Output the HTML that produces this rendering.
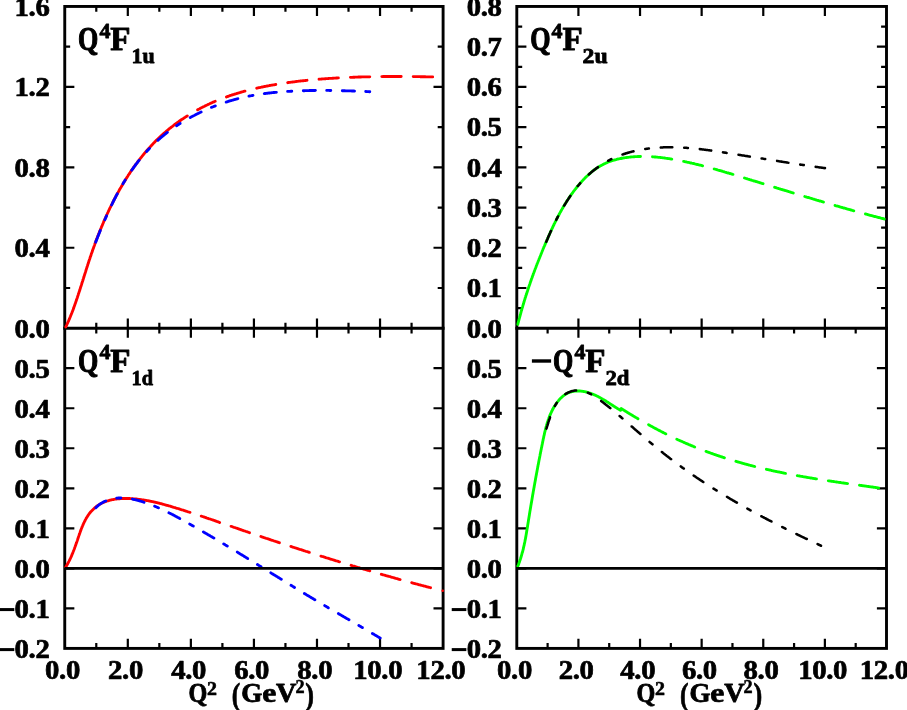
<!DOCTYPE html>
<html><head><meta charset="utf-8"><title>Q4F form factors</title>
<style>html,body{margin:0;padding:0;background:#fff}svg{display:block;will-change:transform}text{font-family:"Liberation Serif",serif;font-weight:bold}</style></head>
<body>
<svg width="907" height="710" viewBox="0 0 907 710" role="img" aria-label="Q^4 F form factor plots">
<rect width="907" height="710" fill="#fff"/>
<g fill="none" stroke="#000" stroke-width="2.9" stroke-linecap="square">
<rect x="64.75" y="6.45" width="378.35" height="641.95"/>
<path d="M64.75,328.2 H443.1"/>
<rect x="516.8" y="6.45" width="369.70" height="641.95"/>
<path d="M516.8,328.2 H886.5"/>
</g>
<path d="M96.28,6.45 V11.85 M96.28,322.80 V333.60 M96.28,643.00 V648.40 M127.81,6.45 V16.05 M127.81,318.60 V337.80 M127.81,638.80 V648.40 M159.34,6.45 V11.85 M159.34,322.80 V333.60 M159.34,643.00 V648.40 M190.87,6.45 V16.05 M190.87,318.60 V337.80 M190.87,638.80 V648.40 M222.40,6.45 V11.85 M222.40,322.80 V333.60 M222.40,643.00 V648.40 M253.93,6.45 V16.05 M253.93,318.60 V337.80 M253.93,638.80 V648.40 M285.45,6.45 V11.85 M285.45,322.80 V333.60 M285.45,643.00 V648.40 M316.98,6.45 V16.05 M316.98,318.60 V337.80 M316.98,638.80 V648.40 M348.51,6.45 V11.85 M348.51,322.80 V333.60 M348.51,643.00 V648.40 M380.04,6.45 V16.05 M380.04,318.60 V337.80 M380.04,638.80 V648.40 M411.57,6.45 V11.85 M411.57,322.80 V333.60 M411.57,643.00 V648.40 M64.75,287.98 H70.15 M437.70,287.98 H443.10 M64.75,247.76 H74.35 M433.50,247.76 H443.10 M64.75,207.54 H70.15 M437.70,207.54 H443.10 M64.75,167.32 H74.35 M433.50,167.32 H443.10 M64.75,127.11 H70.15 M437.70,127.11 H443.10 M64.75,86.89 H74.35 M433.50,86.89 H443.10 M64.75,46.67 H70.15 M437.70,46.67 H443.10 M64.75,608.38 H74.35 M433.50,608.38 H443.10 M64.75,568.35 H74.35 M433.50,568.35 H443.10 M64.75,528.33 H74.35 M433.50,528.33 H443.10 M64.75,488.30 H74.35 M433.50,488.30 H443.10 M64.75,448.27 H74.35 M433.50,448.27 H443.10 M64.75,408.25 H74.35 M433.50,408.25 H443.10 M64.75,368.22 H74.35 M433.50,368.22 H443.10 M547.61,328.20 V333.60 M547.61,643.00 V648.40 M578.42,6.45 V16.05 M578.42,318.60 V337.80 M578.42,638.80 V648.40 M609.22,328.20 V333.60 M609.22,643.00 V648.40 M640.03,6.45 V16.05 M640.03,318.60 V337.80 M640.03,638.80 V648.40 M670.84,328.20 V333.60 M670.84,643.00 V648.40 M701.65,6.45 V16.05 M701.65,318.60 V337.80 M701.65,638.80 V648.40 M732.46,328.20 V333.60 M732.46,643.00 V648.40 M763.27,6.45 V16.05 M763.27,318.60 V337.80 M763.27,638.80 V648.40 M794.08,328.20 V333.60 M794.08,643.00 V648.40 M824.88,6.45 V16.05 M824.88,318.60 V337.80 M824.88,638.80 V648.40 M855.69,328.20 V333.60 M855.69,643.00 V648.40 M516.80,308.09 H522.20 M881.10,308.09 H886.50 M516.80,287.98 H526.40 M876.90,287.98 H886.50 M516.80,267.87 H522.20 M881.10,267.87 H886.50 M516.80,247.76 H526.40 M876.90,247.76 H886.50 M516.80,227.65 H522.20 M881.10,227.65 H886.50 M516.80,207.54 H526.40 M876.90,207.54 H886.50 M516.80,187.43 H522.20 M881.10,187.43 H886.50 M516.80,167.32 H526.40 M876.90,167.32 H886.50 M516.80,147.22 H522.20 M881.10,147.22 H886.50 M516.80,127.11 H526.40 M876.90,127.11 H886.50 M516.80,107.00 H522.20 M881.10,107.00 H886.50 M516.80,86.89 H526.40 M876.90,86.89 H886.50 M516.80,66.78 H522.20 M881.10,66.78 H886.50 M516.80,46.67 H526.40 M876.90,46.67 H886.50 M516.80,26.56 H522.20 M881.10,26.56 H886.50 M516.80,608.38 H526.40 M876.90,608.38 H886.50 M516.80,568.35 H526.40 M876.90,568.35 H886.50 M516.80,528.33 H526.40 M876.90,528.33 H886.50 M516.80,488.30 H526.40 M876.90,488.30 H886.50 M516.80,448.27 H526.40 M876.90,448.27 H886.50 M516.80,408.25 H526.40 M876.90,408.25 H886.50 M516.80,368.22 H526.40 M876.90,368.22 H886.50" fill="none" stroke="#000" stroke-width="2.2"/>
<g fill="none" stroke-width="2.85" stroke-linecap="round" stroke-linejoin="round">
<path d="M65.8,327.0 L65.8,326.9 L66.2,326.1 L66.6,325.3 L66.9,324.5 L67.3,323.7 L67.7,322.9 L68.0,322.1 L68.4,321.4 L68.7,320.6 L69.0,319.8 L69.4,319.0 L69.7,318.2 L70.0,317.4 L70.4,316.6 L70.7,315.8 L71.0,315.0 L71.3,314.2 L71.6,313.4 L72.0,312.6 L72.3,311.8 L72.6,311.0 L72.9,310.2 L73.2,309.4 L73.5,308.6 L73.8,307.8 L74.0,307.0 L74.3,306.2 L74.6,305.4 L74.9,304.6 L75.2,303.8 L75.5,303.0 L75.7,302.2 L76.0,301.4 L76.3,300.6 L76.6,299.8 L76.8,299.0 L77.1,298.2 L77.4,297.4 L77.6,296.6 L77.9,295.7 L78.2,294.9 L78.4,294.1 L78.7,293.3 L79.0,292.5 L79.2,291.7 L79.5,290.9 L79.8,290.1 L80.0,289.3 L80.3,288.5 L80.5,287.6 L80.8,286.8 L81.1,286.0 L81.3,285.2 L81.6,284.4 L81.8,283.6 L82.1,282.8 L82.3,282.0 L82.6,281.2 L82.9,280.3 L83.1,279.5 L83.4,278.7 L83.6,277.9 L83.9,277.1 L84.1,276.3 L84.4,275.5 L84.6,274.7 L84.9,273.8 L85.2,273.0 L85.4,272.2 L85.7,271.4 L85.9,270.6 L86.2,269.8 L86.4,269.0 L86.7,268.1 L87.0,267.3 L87.2,266.5 L87.5,265.7 L87.7,264.9 L88.0,264.1 L88.3,263.3 L88.5,262.5 L88.8,261.6 L89.1,260.8 L89.3,260.0 L89.6,259.2 L89.9,258.4 L90.1,257.6 L90.4,256.8 L90.7,256.0 L91.0,255.2 L91.2,254.3 L91.5,253.5 L91.8,252.7 L92.1,251.9 L92.4,251.1 L92.6,250.3 L92.9,249.5 L93.2,248.7 L93.5,247.9 L93.8,247.1 L94.1,246.3 L94.4,245.5 L94.7,244.6 L94.9,243.8 L95.2,243.0 L95.5,242.2 L95.8,241.4 L96.1,240.6 L96.4,239.8 L96.7,239.0 L97.0,238.2 L97.4,237.4 L97.7,236.6 L98.0,235.8 L98.3,235.0 L98.6,234.2 L98.9,233.4 L99.2,232.6 L99.5,231.8 L99.9,231.0 L100.2,230.2 L100.5,229.4 L100.8,228.6 L101.2,227.8 L101.5,227.0 L101.8,226.2 L102.2,225.5 L102.5,224.7 L102.8,223.9 L103.2,223.1 L103.5,222.3 L103.8,221.5 L104.2,220.7 L104.5,219.9 L104.9,219.1 L105.2,218.4 L105.6,217.6 L105.9,216.8 L106.3,216.0 L106.6,215.2 L107.0,214.4 L107.3,213.7 L107.7,212.9 L108.1,212.1 L108.4,211.3 L108.8,210.5 L109.2,209.8 L109.5,209.0 L109.9,208.2 L110.3,207.4 L110.7,206.7 L111.0,205.9 L111.4,205.1 L111.8,204.4 L112.2,203.6 L112.6,202.8 L113.0,202.0 L113.3,201.3 L113.7,200.5 L114.1,199.8 L114.5,199.0 L114.9,198.2 L115.3,197.5 L115.7,196.7 L116.1,195.9 L116.5,195.2 L116.9,194.4 L117.4,193.7 L117.8,192.9 L118.2,192.2 L118.6,191.4 L119.0,190.7 L119.4,189.9 L119.9,189.2 L120.3,188.4 L120.7,187.7 L121.2,186.9 L121.6,186.2 L122.0,185.5 L122.5,184.7 L122.9,184.0 L123.3,183.2 L123.8,182.5 L124.2,181.8 L124.7,181.0 L125.1,180.3 L125.6,179.6 L126.0,178.8 L126.5,178.1 L127.0,177.4 L127.4,176.7 L127.9,175.9 L128.3,175.2 L128.8,174.5 L129.3,173.8 L129.8,173.1 L130.2,172.4 L130.7,171.6 L131.2,170.9 L131.7,170.2 L132.2,169.5 L132.7,168.8 L133.2,168.1 L133.6,167.4 L134.1,166.7 L134.6,166.0 L135.1,165.3 L135.6,164.6 L136.2,163.9 L136.7,163.3 L137.2,162.6 L137.7,161.9 L138.2,161.2 L138.7,160.5 L139.2,159.8 L139.8,159.2 L140.3,158.5 L140.8,157.8 L141.4,157.2 L141.9,156.5 L142.4,155.8 L143.0,155.2 L143.5,154.5 L144.1,153.8 L144.6,153.2 L145.2,152.5 L145.7,151.9 L146.3,151.2 L146.8,150.6 L147.4,150.0 L147.9,149.3 L148.5,148.7 L149.1,148.0 L149.7,147.4 L150.2,146.8 L150.8,146.2 L151.4,145.5 L152.0,144.9 L152.6,144.3 L153.1,143.7 L153.7,143.1 L154.3,142.5 L154.9,141.8 L155.5,141.2 L156.1,140.6 L156.7,140.0 L157.3,139.4 L158.0,138.9 L158.6,138.3 L159.2,137.7 L159.8,137.1 L160.4,136.5 L161.1,135.9 L161.7,135.4 L162.3,134.8 L163.0,134.2 L163.6,133.7 L164.2,133.1 L164.9,132.5 L165.5,132.0 L166.2,131.4 L166.8,130.9 L167.5,130.3 L168.1,129.8 L168.8,129.2 L169.4,128.7 L170.1,128.2 L170.8,127.6 L171.4,127.1 L172.1,126.6 L172.8,126.1 L173.5,125.5 L174.1,125.0 L174.8,124.5 L175.5,124.0 L176.2,123.5 L176.9,123.0 L177.6,122.5 L178.3,122.0 L178.9,121.5 L179.6,121.0 L180.3,120.5 L181.0,120.0 L181.7,119.5 L182.5,119.1 L183.2,118.6 L183.9,118.1 L184.6,117.6 L185.3,117.2 L186.0,116.7 L186.7,116.3 L187.3,115.9" stroke="#ff0000"/>
<path d="M197.6,109.8 L197.8,109.7 L198.5,109.3 L199.3,108.9 L200.0,108.5 L200.8,108.1 L201.5,107.7 L202.3,107.3 L203.0,106.9 L203.8,106.6 L204.6,106.2 L205.3,105.8 L206.1,105.4 L206.9,105.0 L207.6,104.7 L208.4,104.3 L209.2,104.0 L210.0,103.6 L210.8,103.2 L211.5,102.9 L212.3,102.5 L213.1,102.2 L213.9,101.9 L214.7,101.5 L215.2,101.3 M226.4,96.9 L226.6,96.8 L227.4,96.5 L228.2,96.3 L229.0,96.0 L229.8,95.7 L230.7,95.4 L231.5,95.2 L232.3,94.9 L233.1,94.6 L233.9,94.4 L234.7,94.1 L235.6,93.8 L236.4,93.6 L237.2,93.3 L238.0,93.1 L238.8,92.9 L239.7,92.6 L240.5,92.4 L241.3,92.1 L242.1,91.9 L243.0,91.7 L243.8,91.4 L244.6,91.2 L245.0,91.1 M256.7,88.2 L257.2,88.1 L258.0,87.9 L258.8,87.7 L259.7,87.6 L260.5,87.4 L261.4,87.2 L262.2,87.0 L263.1,86.9 L263.9,86.7 L264.7,86.5 L265.6,86.4 L266.4,86.2 L267.3,86.0 L268.1,85.9 L269.0,85.7 L269.8,85.5 L270.7,85.4 L271.5,85.2 L272.4,85.1 L273.2,84.9 L274.1,84.8 L274.9,84.6 L275.8,84.5 L275.8,84.5 M287.7,82.7 L288.5,82.5 L289.4,82.4 L290.2,82.3 L291.1,82.2 L291.9,82.1 L292.8,82.0 L293.6,81.9 L294.5,81.8 L295.3,81.6 L296.2,81.5 L297.0,81.4 L297.9,81.3 L298.7,81.2 L299.6,81.1 L300.4,81.0 L301.3,80.9 L302.1,80.8 L303.0,80.7 L303.8,80.7 L304.7,80.6 L305.5,80.5 L306.4,80.4 L307.0,80.3 M319.0,79.2 L319.2,79.2 L320.0,79.1 L320.9,79.1 L321.7,79.0 L322.6,78.9 L323.4,78.9 L324.3,78.8 L325.1,78.7 L326.0,78.7 L326.8,78.6 L327.7,78.6 L328.5,78.5 L329.4,78.4 L330.2,78.4 L331.1,78.3 L331.9,78.3 L332.8,78.2 L333.6,78.2 L334.5,78.1 L335.3,78.1 L336.2,78.0 L337.0,78.0 L337.9,77.9 L338.4,77.9 M350.4,77.3 L350.7,77.3 L351.5,77.3 L352.4,77.3 L353.2,77.2 L354.1,77.2 L354.9,77.2 L355.8,77.1 L356.6,77.1 L357.5,77.1 L358.4,77.0 L359.2,77.0 L360.1,77.0 L360.9,77.0 L361.8,76.9 L362.6,76.9 L363.5,76.9 L364.3,76.9 L365.2,76.9 L366.0,76.8 L366.9,76.8 L367.7,76.8 L368.6,76.8 L369.5,76.8 L369.8,76.8 M381.8,76.6 L382.3,76.6 L383.1,76.5 L384.0,76.5 L384.8,76.5 L385.7,76.5 L386.5,76.5 L387.4,76.5 L388.3,76.5 L389.1,76.5 L390.0,76.5 L390.8,76.5 L391.7,76.5 L392.5,76.5 L393.4,76.5 L394.2,76.5 L395.1,76.5 L396.0,76.5 L396.8,76.5 L397.7,76.5 L398.5,76.5 L399.4,76.5 L400.2,76.5 L401.1,76.5 L401.2,76.5 M413.2,76.6 L413.9,76.6 L414.8,76.6 L415.7,76.6 L416.5,76.6 L417.4,76.6 L418.2,76.6 L419.1,76.6 L420.0,76.7 L420.8,76.7 L421.7,76.7 L422.5,76.7 L423.4,76.7 L424.2,76.7 L425.1,76.7 L426.0,76.8 L426.8,76.8 L427.7,76.8 L428.5,76.8 L429.4,76.8 L430.3,76.9 L431.1,76.9 L432.0,76.9 L432.7,76.9" stroke="#ff0000" stroke-width="2.85"/>
<path d="M95.7,242.1 L95.9,241.6 L96.1,241.1 L96.3,240.5 L96.6,239.9 L96.8,239.4 L97.0,238.8 L97.2,238.3 L97.4,237.7 L97.6,237.2 L97.8,236.6 L98.1,236.1 L98.3,235.5 L98.5,235.0 L98.7,234.4 L98.9,233.9 L99.2,233.3 L99.4,232.8 L99.6,232.2 L99.8,231.7 L100.1,231.1 L100.3,230.5 L100.3,230.4 M104.9,219.7 L104.9,219.5 L105.1,219.0 L105.4,218.5 L105.6,217.9 L105.9,217.4 L106.1,216.8 L106.4,216.3 L106.6,215.8 M111.6,205.0 L111.6,204.9 L111.9,204.4 L112.2,203.8 L112.4,203.3 L112.7,202.7 L113.0,202.2 L113.2,201.7 L113.5,201.1 L113.8,200.6 L114.0,200.1 L114.3,199.5 L114.6,199.0 L114.8,198.5 L115.1,198.0 L115.4,197.4 L115.7,196.9 L115.9,196.4 L116.2,195.8 L116.5,195.3 L116.8,194.8 L117.1,194.3 L117.3,193.8 M123.0,183.8 L123.2,183.3 L123.5,182.8 L123.8,182.3 L124.1,181.8 L124.5,181.3 L124.8,180.8 L125.1,180.3 L125.2,180.1 M131.7,170.2 L132.0,169.8 L132.3,169.3 L132.7,168.9 L133.0,168.4 L133.4,167.9 L133.7,167.4 L134.1,166.9 L134.4,166.4 L134.8,166.0 L135.1,165.5 L135.5,165.0 L135.8,164.5 L136.2,164.0 L136.6,163.6 L136.9,163.1 L137.3,162.6 L137.7,162.1 L138.0,161.7 L138.4,161.2 L138.8,160.7 L139.1,160.3 L139.1,160.3 M146.6,151.5 L146.9,151.2 L147.3,150.8 L147.7,150.3 L148.1,149.9 L148.5,149.5 L148.9,149.0 L149.3,148.6 L149.5,148.4 M157.9,140.3 L158.3,140.0 L158.7,139.6 L159.1,139.2 L159.6,138.8 L160.0,138.4 L160.5,138.0 L160.9,137.6 L161.4,137.2 L161.8,136.8 L162.3,136.5 L162.7,136.1 L163.2,135.7 L163.7,135.3 L164.1,135.0 L164.6,134.6 L165.0,134.2 L165.5,133.8 L166.0,133.5 L166.4,133.1 L166.9,132.7 L167.4,132.4 M176.6,125.8 L177.1,125.5 L177.6,125.1 L178.1,124.8 L178.6,124.5 L179.1,124.1 L179.6,123.8 L180.1,123.5 L180.2,123.5 M190.2,117.6 L190.4,117.4 L190.9,117.1 L191.5,116.9 L192.0,116.6 L192.5,116.3 L193.1,116.0 L193.6,115.7 L194.1,115.5 L194.7,115.2 L195.2,114.9 L195.7,114.6 L196.3,114.4 L196.8,114.1 L197.3,113.8 L197.9,113.6 L198.4,113.3 L198.9,113.0 L199.5,112.8 L200.0,112.5 L200.5,112.3 L201.1,112.0 M211.4,107.4 L211.5,107.4 L212.0,107.2 L212.6,107.0 L213.1,106.8 L213.7,106.5 L214.2,106.3 L214.8,106.1 L215.3,105.9 M226.2,102.1 L226.5,101.9 L227.1,101.8 L227.7,101.6 L228.2,101.4 L228.8,101.2 L229.4,101.1 L229.9,100.9 L230.5,100.7 L231.1,100.6 L231.7,100.4 L232.2,100.2 L232.8,100.1 L233.4,99.9 L233.9,99.7 L234.5,99.6 L235.1,99.4 L235.7,99.3 L236.2,99.1 L236.8,99.0 L237.4,98.8 L237.9,98.7 M248.9,96.1 L248.9,96.1 L249.5,96.0 L250.1,95.9 L250.7,95.8 L251.3,95.7 L251.8,95.6 L252.4,95.5 L253.0,95.4 M264.3,93.6 L264.8,93.5 L265.3,93.5 L265.9,93.4 L266.5,93.3 L267.1,93.2 L267.7,93.2 L268.3,93.1 L268.9,93.0 L269.5,93.0 L270.1,92.9 L270.7,92.8 L271.3,92.8 L271.8,92.7 L272.4,92.6 L273.0,92.6 L273.6,92.5 L274.2,92.5 L274.8,92.4 L275.4,92.4 L276.0,92.3 L276.4,92.3 M287.6,91.4 L287.9,91.4 L288.5,91.4 L289.1,91.3 L289.7,91.3 L290.3,91.3 L290.9,91.2 L291.5,91.2 L291.8,91.2 M303.3,90.7 L303.5,90.7 L304.1,90.7 L304.7,90.7 L305.3,90.6 L305.9,90.6 L306.5,90.6 L307.1,90.6 L307.7,90.6 L308.3,90.6 L308.9,90.6 L309.5,90.5 L310.1,90.5 L310.7,90.5 L311.3,90.5 L311.9,90.5 L312.5,90.5 L313.1,90.5 L313.7,90.5 L314.3,90.5 L314.9,90.5 L315.4,90.4 M326.7,90.4 L326.9,90.4 L327.5,90.4 L328.1,90.4 L328.7,90.4 L329.2,90.4 L329.8,90.5 L330.4,90.5 L330.8,90.5 M342.3,90.7 L342.4,90.7 L343.0,90.7 L343.6,90.7 L344.2,90.7 L344.8,90.7 L345.4,90.8 L345.9,90.8 L346.5,90.8 L347.1,90.8 L347.7,90.8 L348.3,90.8 L348.9,90.9 L349.5,90.9 L350.1,90.9 L350.7,90.9 L351.3,90.9 L351.9,91.0 L352.5,91.0 L353.1,91.0 L353.7,91.0 L354.2,91.0 L354.5,91.1 M365.7,91.5 L366.0,91.5 L366.6,91.6 L367.2,91.6 L367.8,91.6 L368.4,91.6 L368.9,91.7 L369.5,91.7 L369.8,91.7" stroke="#0000ff" stroke-width="2.85"/>
<path d="M517.8,324.4 L517.8,324.3 L518.0,323.5 L518.2,322.7 L518.4,322.0 L518.6,321.2 L518.8,320.4 L519.0,319.6 L519.2,318.8 L519.4,318.1 L519.6,317.3 L519.9,316.5 L520.1,315.7 L520.3,314.9 L520.5,314.2 L520.7,313.4 L520.9,312.6 L521.1,311.8 L521.3,311.1 L521.6,310.3 L521.8,309.5 L522.0,308.7 L522.2,308.0 L522.5,307.2 L522.7,306.4 L522.9,305.6 L523.1,304.9 L523.4,304.1 L523.6,303.3 L523.8,302.6 L524.1,301.8 L524.3,301.0 L524.5,300.2 L524.8,299.5 L525.0,298.7 L525.2,297.9 L525.5,297.2 L525.7,296.4 L526.0,295.6 L526.2,294.9 L526.5,294.1 L526.7,293.3 L527.0,292.6 L527.2,291.8 L527.5,291.0 L527.7,290.3 L528.0,289.5 L528.2,288.7 L528.5,288.0 L528.7,287.2 L529.0,286.5 L529.2,285.7 L529.5,284.9 L529.8,284.2 L530.0,283.4 L530.3,282.6 L530.5,281.9 L530.8,281.1 L531.1,280.4 L531.3,279.6 L531.6,278.8 L531.9,278.1 L532.2,277.3 L532.4,276.6 L532.7,275.8 L533.0,275.1 L533.2,274.3 L533.5,273.5 L533.8,272.8 L534.1,272.0 L534.4,271.3 L534.6,270.5 L534.9,269.8 L535.2,269.0 L535.5,268.3 L535.8,267.5 L536.1,266.8 L536.3,266.0 L536.6,265.3 L536.9,264.5 L537.2,263.7 L537.5,263.0 L537.8,262.2 L538.1,261.5 L538.4,260.7 L538.7,260.0 L539.0,259.2 L539.3,258.5 L539.6,257.8 L539.9,257.0 L540.2,256.3 L540.5,255.5 L540.8,254.8 L541.1,254.0 L541.4,253.3 L541.7,252.5 L542.0,251.8 L542.3,251.0 L542.6,250.3 L542.9,249.5 L543.2,248.8 L543.5,248.1 L543.8,247.3 L544.1,246.6 L544.5,245.8 L544.8,245.1 L545.1,244.4 L545.4,243.6 L545.7,242.9 L546.0,242.1 L546.4,241.4 L546.7,240.7 L547.0,239.9 L547.3,239.2 L547.6,238.4 L548.0,237.7 L548.3,237.0 L548.6,236.2 L548.9,235.5 L549.3,234.8 L549.6,234.0 L549.9,233.3 L550.2,232.5 L550.6,231.8 L550.9,231.1 L551.3,230.4 L551.6,229.6 L551.9,228.9 L552.3,228.2 L552.6,227.4 L552.9,226.7 L553.3,226.0 L553.6,225.3 L554.0,224.5 L554.3,223.8 L554.7,223.1 L555.0,222.4 L555.4,221.6 L555.8,220.9 L556.1,220.2 L556.5,219.5 L556.8,218.8 L557.2,218.0 L557.6,217.3 L557.9,216.6 L558.3,215.9 L558.7,215.2 L559.1,214.5 L559.5,213.8 L559.8,213.1 L560.2,212.4 L560.6,211.7 L561.0,211.0 L561.4,210.3 L561.8,209.6 L562.2,208.9 L562.6,208.2 L563.0,207.5 L563.4,206.8 L563.8,206.1 L564.2,205.4 L564.6,204.7 L565.0,204.0 L565.5,203.3 L565.9,202.7 L566.3,202.0 L566.7,201.3 L567.2,200.6 L567.6,199.9 L568.1,199.3 L568.5,198.6 L569.0,197.9 L569.4,197.3 L569.9,196.6 L570.3,195.9 L570.8,195.3 L571.2,194.6 L571.7,194.0 L572.2,193.3 L572.7,192.6 L573.1,192.0 L573.6,191.3 L574.1,190.7 L574.6,190.1 L575.1,189.4 L575.6,188.8 L576.1,188.1 L576.6,187.5 L577.1,186.9 L577.6,186.2 L578.1,185.6 L578.7,185.0 L579.2,184.4 L579.7,183.8 L580.3,183.1 L580.8,182.5 L581.4,181.9 L581.9,181.3 L582.5,180.7 L583.0,180.1 L583.6,179.5 L584.2,178.9 L584.7,178.3 L585.3,177.7 L585.9,177.2 L586.5,176.6 L587.1,176.0 L587.7,175.5 L588.3,174.9 L588.9,174.4 L589.5,173.8 L590.1,173.3 L590.7,172.8 L591.3,172.2 L592.0,171.7 L592.6,171.2 L593.2,170.7 L593.9,170.2 L594.5,169.7 L595.2,169.3 L595.8,168.8 L596.5,168.3 L597.2,167.9 L597.8,167.5 L598.5,167.0 L599.2,166.6 L599.9,166.2 L600.6,165.8 L601.3,165.4 L602.0,165.0 L602.7,164.7 L603.4,164.3 L604.1,163.9 L604.8,163.6 L605.5,163.3 L606.3,162.9 L607.0,162.6 L607.7,162.3 L608.4,162.0 L609.2,161.7 L609.9,161.5 L610.7,161.2 L611.4,160.9 L612.2,160.7 L612.9,160.5 L613.7,160.2 L614.4,160.0 L615.2,159.8 L616.0,159.6 L616.7,159.4 L617.5,159.2 L618.3,159.0 L619.0,158.8 L619.8,158.7 L620.6,158.5 L621.4,158.4 L621.5,158.3" stroke="#00ff00"/>
<path d="M621.2,158.4 L621.4,158.4 L622.1,158.2 L622.9,158.1 L623.7,157.9 L624.5,157.8 L625.3,157.7 L626.0,157.6 L626.8,157.5 L627.6,157.4 L628.4,157.3 L629.2,157.2 L630.0,157.1 L630.8,157.0 L631.6,156.9 L632.3,156.9 L633.1,156.8 L633.9,156.7 L634.7,156.7 L635.5,156.6 L636.3,156.6 L637.1,156.6 L637.9,156.5 L638.7,156.5 L639.5,156.5 L640.3,156.5 L640.5,156.5 M652.5,156.8 L653.2,156.9 L654.0,156.9 L654.8,157.0 L655.7,157.0 L656.5,157.1 L657.3,157.2 L658.1,157.3 L658.9,157.4 L659.7,157.4 L660.5,157.5 L661.3,157.6 L662.1,157.7 L662.9,157.8 L663.8,157.9 L664.6,158.0 L665.4,158.2 L666.2,158.3 L667.0,158.4 L667.8,158.5 L668.6,158.6 L669.4,158.7 L670.2,158.9 L671.0,159.0 L671.8,159.1 M683.6,161.4 L683.9,161.4 L684.7,161.6 L685.5,161.8 L686.3,161.9 L687.0,162.1 L687.8,162.3 L688.6,162.4 L689.4,162.6 L690.2,162.8 L691.0,163.0 L691.8,163.2 L692.6,163.3 L693.4,163.5 L694.2,163.7 L694.9,163.9 L695.7,164.1 L696.5,164.3 L697.3,164.5 L698.1,164.7 L698.9,164.9 L699.6,165.1 L700.4,165.2 L701.2,165.4 L702.0,165.6 L702.6,165.8 M714.2,168.9 L714.4,169.0 L715.1,169.2 L715.9,169.4 L716.7,169.6 L717.5,169.9 L718.2,170.1 L719.0,170.3 L719.8,170.5 L720.5,170.7 L721.3,171.0 L722.1,171.2 L722.8,171.4 L723.6,171.6 L724.4,171.9 L725.1,172.1 L725.9,172.3 L726.7,172.6 L727.4,172.8 L728.2,173.0 L729.0,173.2 L729.7,173.5 L730.5,173.7 L731.3,173.9 L732.0,174.2 L732.8,174.4 L733.0,174.4 M744.5,178.0 L745.1,178.2 L745.8,178.4 L746.6,178.6 L747.4,178.9 L748.1,179.1 L748.9,179.3 L749.7,179.6 L750.4,179.8 L751.2,180.0 L752.0,180.3 L752.7,180.5 L753.5,180.8 L754.3,181.0 L755.0,181.2 L755.8,181.5 L756.6,181.7 L757.3,181.9 L758.1,182.2 L758.9,182.4 L759.6,182.6 L760.4,182.9 L761.2,183.1 L762.0,183.4 L762.7,183.6 L763.1,183.7 M774.6,187.3 L775.0,187.4 L775.8,187.6 L776.6,187.9 L777.3,188.1 L778.1,188.3 L778.9,188.6 L779.7,188.8 L780.4,189.1 L781.2,189.3 L782.0,189.5 L782.7,189.8 L783.5,190.0 L784.3,190.2 L785.0,190.5 L785.8,190.7 L786.6,190.9 L787.4,191.2 L788.1,191.4 L788.9,191.7 L789.7,191.9 L790.4,192.1 L791.2,192.4 L792.0,192.6 L792.8,192.8 L793.3,193.0 M804.8,196.5 L805.1,196.6 L805.9,196.8 L806.7,197.1 L807.4,197.3 L808.2,197.5 L809.0,197.7 L809.8,198.0 L810.5,198.2 L811.3,198.4 L812.1,198.7 L812.8,198.9 L813.6,199.1 L814.4,199.4 L815.2,199.6 L815.9,199.8 L816.7,200.1 L817.5,200.3 L818.3,200.5 L819.0,200.8 L819.8,201.0 L820.6,201.2 L821.4,201.4 L822.1,201.7 L822.9,201.9 L823.5,202.1 M835.0,205.5 L835.3,205.5 L836.1,205.8 L836.8,206.0 L837.6,206.2 L838.4,206.4 L839.2,206.6 L839.9,206.9 L840.7,207.1 L841.5,207.3 L842.3,207.5 L843.0,207.8 L843.8,208.0 L844.6,208.2 L845.4,208.4 L846.1,208.6 L846.9,208.9 L847.7,209.1 L848.5,209.3 L849.2,209.5 L850.0,209.7 L850.8,210.0 L851.6,210.2 L852.3,210.4 L853.1,210.6 L853.8,210.8 M865.4,214.0 L865.5,214.0 L866.3,214.2 L867.1,214.4 L867.8,214.7 L868.6,214.9 L869.4,215.1 L870.2,215.3 L870.9,215.5 L871.7,215.7 L872.5,215.9 L873.3,216.1 L874.0,216.3 L874.8,216.5 L875.6,216.7 L876.4,216.9 L877.2,217.1 L877.9,217.3 L878.7,217.5 L879.5,217.7 L880.3,217.9 L881.0,218.1 L881.8,218.3 L882.6,218.5 L883.4,218.7 L884.1,218.9 L884.2,219.0" stroke="#00ff00" stroke-width="2.85"/>
<path d="M546.3,241.8 L546.5,241.3 L546.7,240.8 L546.9,240.3 L547.1,239.8 L547.4,239.3 L547.6,238.8 L547.8,238.3 L548.0,237.8 L548.2,237.3 L548.4,236.7 L548.7,236.2 L548.9,235.7 L549.1,235.2 L549.3,234.7 L549.6,234.2 L549.8,233.7 L550.0,233.2 L550.2,232.6 L550.5,232.1 L550.7,231.6 L550.9,231.1 L551.0,231.0 M556.3,219.8 L556.5,219.4 L556.8,218.9 L557.0,218.4 L557.3,217.9 L557.6,217.4 L557.8,216.9 L558.0,216.5 M564.1,205.7 L564.2,205.6 L564.5,205.1 L564.8,204.6 L565.1,204.1 L565.4,203.6 L565.7,203.1 L566.0,202.6 L566.3,202.2 L566.6,201.7 L566.9,201.2 L567.2,200.7 L567.5,200.3 L567.8,199.8 L568.1,199.3 L568.4,198.8 L568.7,198.3 L569.0,197.9 L569.4,197.4 L569.7,196.9 L570.0,196.5 L570.3,196.0 L570.4,195.8 M577.8,186.0 L578.2,185.6 L578.5,185.2 L578.9,184.8 L579.3,184.3 L579.6,183.9 L580.0,183.5 L580.2,183.2 M588.8,174.5 L589.1,174.3 L589.5,173.9 L589.9,173.5 L590.3,173.1 L590.7,172.8 L591.2,172.4 L591.6,172.1 L592.0,171.7 L592.5,171.3 L592.9,171.0 L593.3,170.6 L593.8,170.3 L594.2,169.9 L594.6,169.6 L595.1,169.3 L595.5,168.9 L596.0,168.6 L596.4,168.2 L596.9,167.9 L597.3,167.6 L597.8,167.3 L597.9,167.2 M608.1,160.8 L608.2,160.8 L608.7,160.5 L609.2,160.3 L609.7,160.0 L610.2,159.8 L610.6,159.5 L611.1,159.3 L611.4,159.1 M622.5,154.5 L623.0,154.4 L623.5,154.2 L624.0,154.0 L624.5,153.8 L625.1,153.7 L625.6,153.5 L626.1,153.3 L626.7,153.2 L627.2,153.0 L627.7,152.8 L628.3,152.7 L628.8,152.5 L629.4,152.4 L629.9,152.2 L630.4,152.1 L631.0,151.9 L631.5,151.8 L632.1,151.6 L632.6,151.5 L633.1,151.4 L633.5,151.3 M645.3,149.0 L645.3,149.0 L645.9,148.9 L646.4,148.8 L647.0,148.8 L647.5,148.7 L648.1,148.6 L648.7,148.5 L648.9,148.5 M660.8,147.5 L661.1,147.4 L661.7,147.4 L662.2,147.4 L662.8,147.4 L663.4,147.3 L663.9,147.3 L664.5,147.3 L665.1,147.3 L665.6,147.3 L666.2,147.3 L666.8,147.3 L667.3,147.2 L667.9,147.2 L668.5,147.2 L669.0,147.2 L669.6,147.2 L670.2,147.2 L670.7,147.2 L671.3,147.2 L671.9,147.2 L672.3,147.2 M684.2,147.7 L684.3,147.7 L684.9,147.7 L685.4,147.8 L686.0,147.8 L686.5,147.8 L687.1,147.9 L687.7,147.9 L687.9,147.9 M699.8,149.1 L700.0,149.1 L700.6,149.2 L701.1,149.3 L701.7,149.3 L702.2,149.4 L702.8,149.5 L703.4,149.5 L703.9,149.6 L704.5,149.7 L705.0,149.7 L705.6,149.8 L706.1,149.9 L706.7,150.0 L707.3,150.0 L707.8,150.1 L708.4,150.2 L708.9,150.3 L709.5,150.3 L710.0,150.4 L710.6,150.5 L711.2,150.6 L711.2,150.6 M723.0,152.3 L723.4,152.4 L724.0,152.5 L724.5,152.6 L725.1,152.6 L725.6,152.7 L726.2,152.8 L726.6,152.9 M738.5,154.8 L738.9,154.8 L739.5,154.9 L740.0,155.0 L740.6,155.1 L741.1,155.2 L741.7,155.3 L742.2,155.4 L742.8,155.4 L743.3,155.5 L743.9,155.6 L744.5,155.7 L745.0,155.8 L745.6,155.9 L746.1,156.0 L746.7,156.1 L747.2,156.1 L747.8,156.2 L748.3,156.3 L748.9,156.4 L749.4,156.5 L749.8,156.6 M761.6,158.5 L762.2,158.5 L762.7,158.6 L763.3,158.7 L763.8,158.8 L764.4,158.9 L764.9,159.0 L765.2,159.0 M777.1,160.9 L777.1,160.9 L777.7,161.0 L778.2,161.1 L778.8,161.2 L779.3,161.3 L779.9,161.4 L780.4,161.5 L781.0,161.6 L781.5,161.6 L782.1,161.7 L782.6,161.8 L783.2,161.9 L783.8,162.0 L784.3,162.1 L784.9,162.2 L785.4,162.3 L786.0,162.3 L786.5,162.4 L787.1,162.5 L787.6,162.6 L788.2,162.7 L788.4,162.7 M800.2,164.6 L800.4,164.6 L801.0,164.7 L801.5,164.8 L802.1,164.8 L802.7,164.9 L803.2,165.0 L803.8,165.1 L803.8,165.1 M815.7,166.8 L816.1,166.9 L816.6,167.0 L817.2,167.0 L817.7,167.1 L818.3,167.2 L818.9,167.3 L819.4,167.4 L820.0,167.4 L820.5,167.5 L821.1,167.6 L821.7,167.7 L822.2,167.8 L822.8,167.8 L823.3,167.9 L823.9,168.0 L824.5,168.1 L825.0,168.1 L825.0,168.1" stroke="#000000" stroke-width="2.55"/>
<path d="M65.8,567.0 L66.0,566.6 L66.4,566.0 L66.8,565.4 L67.1,564.7 L67.5,564.1 L67.8,563.5 L68.2,562.8 L68.5,562.2 L68.8,561.6 L69.2,560.9 L69.5,560.3 L69.8,559.7 L70.1,559.0 L70.4,558.4 L70.7,557.7 L71.0,557.1 L71.3,556.4 L71.6,555.8 L71.8,555.1 L72.1,554.5 L72.4,553.8 L72.7,553.2 L72.9,552.5 L73.2,551.8 L73.4,551.2 L73.7,550.5 L74.0,549.8 L74.2,549.2 L74.5,548.5 L74.7,547.8 L74.9,547.2 L75.2,546.5 L75.4,545.8 L75.7,545.1 L75.9,544.5 L76.1,543.8 L76.4,543.1 L76.6,542.4 L76.9,541.7 L77.1,541.1 L77.3,540.4 L77.6,539.7 L77.8,539.0 L78.0,538.3 L78.3,537.6 L78.5,536.9 L78.7,536.2 L79.0,535.5 L79.2,534.8 L79.5,534.1 L79.7,533.4 L80.0,532.7 L80.2,532.0 L80.5,531.3 L80.7,530.6 L81.0,529.9 L81.2,529.2 L81.5,528.5 L81.8,527.8 L82.1,527.1 L82.3,526.4 L82.6,525.8 L82.9,525.1 L83.2,524.4 L83.5,523.7 L83.8,523.0 L84.1,522.4 L84.4,521.7 L84.8,521.1 L85.1,520.4 L85.4,519.8 L85.8,519.1 L86.1,518.5 L86.5,517.9 L86.9,517.2 L87.3,516.6 L87.7,516.0 L88.1,515.4 L88.5,514.8 L88.9,514.2 L89.3,513.7 L89.7,513.1 L90.2,512.5 L90.6,512.0 L91.1,511.4 L91.6,510.9 L92.1,510.4 L92.6,509.9 L93.1,509.4 L93.6,508.9 L94.1,508.4 L94.6,507.9 L95.2,507.5 L95.7,507.1 L96.3,506.6 L96.8,506.2 L97.4,505.8 L98.0,505.4 L98.5,505.0 L99.1,504.7 L99.7,504.3 L100.3,504.0 L100.9,503.6 L101.5,503.3 L102.2,503.0 L102.8,502.7 L103.4,502.4 L104.1,502.2 L104.7,501.9 L105.4,501.7 L106.0,501.4 L106.7,501.2 L107.4,501.0 L108.0,500.8 L108.7,500.6 L109.4,500.4 L110.1,500.2 L110.8,500.0 L111.5,499.9 L112.2,499.7 L112.9,499.6 L113.6,499.5 L114.3,499.3 L115.0,499.2 L115.7,499.1 L116.4,499.0 L117.2,498.9 L117.9,498.8 L118.6,498.8 L119.3,498.7 L120.1,498.7 L120.8,498.6 L121.5,498.6 L122.3,498.5 L123.0,498.5 L123.7,498.5 L124.5,498.5 L125.2,498.5 L126.0,498.5 L126.7,498.5 L127.5,498.5 L128.2,498.5 L128.9,498.5 L129.7,498.5 L130.4,498.6 L131.2,498.6 L131.9,498.7 L132.6,498.7 L133.4,498.8 L134.1,498.8 L134.9,498.9 L135.6,499.0 L136.3,499.0 L137.1,499.1 L137.8,499.2 L138.5,499.3 L139.3,499.4 L140.0,499.5 L140.7,499.6 L141.4,499.7 L142.2,499.8 L142.9,499.9 L143.6,500.0 L144.3,500.1 L145.0,500.2 L145.7,500.3 L146.5,500.5 L147.2,500.6 L147.9,500.7 L148.6,500.9 L149.3,501.0 L150.0,501.1 L150.7,501.3 L151.4,501.4 L152.1,501.6 L152.8,501.7 L153.5,501.9 L154.2,502.0 L154.9,502.2 L155.6,502.4 L156.3,502.5 L157.0,502.7 L157.7,502.9 L158.4,503.0 L159.1,503.2 L159.8,503.4 L160.5,503.6 L161.2,503.7 L161.9,503.9 L162.6,504.1 L163.3,504.3 L164.0,504.5 L164.6,504.7 L165.3,504.9 L166.0,505.1 L166.7,505.3 L167.4,505.4 L168.1,505.6 L168.8,505.8 L169.5,506.0 L170.2,506.2 L170.8,506.4 L171.5,506.7 L172.2,506.9 L172.9,507.1 L173.6,507.3 L174.3,507.5 L175.0,507.7 L175.6,507.9 L176.3,508.1 L177.0,508.3 L177.7,508.5 L178.4,508.7 L179.1,508.9 L179.8,509.2 L180.4,509.4 L181.1,509.6 L181.8,509.8 L182.5,510.0 L183.2,510.2 L183.9,510.4 L184.5,510.7 L185.2,510.9 L185.9,511.1 L186.6,511.3 L187.3,511.5 L188.0,511.8 L188.7,512.0 L189.3,512.2 L190.0,512.4" stroke="#ff0000"/>
<path d="M201.2,516.1 L201.7,516.2 L202.4,516.5 L203.0,516.7 L203.7,516.9 L204.4,517.2 L205.1,517.4 L205.8,517.6 L206.5,517.9 L207.1,518.1 L207.8,518.3 L208.5,518.6 L209.2,518.8 L209.9,519.0 L210.6,519.2 L211.3,519.5 L211.9,519.7 L212.6,519.9 L213.3,520.2 L214.0,520.4 L214.7,520.6 L215.4,520.9 L216.0,521.1 L216.7,521.4 L217.4,521.6 L218.1,521.8 L218.8,522.1 L219.5,522.3 L219.6,522.4 M231.0,526.3 L231.1,526.3 L231.8,526.5 L232.5,526.8 L233.2,527.0 L233.8,527.3 L234.5,527.5 L235.2,527.7 L235.9,528.0 L236.6,528.2 L237.3,528.4 L238.0,528.7 L238.6,528.9 L239.3,529.2 L240.0,529.4 L240.7,529.6 L241.4,529.9 L242.1,530.1 L242.7,530.3 L243.4,530.6 L244.1,530.8 L244.8,531.0 L245.5,531.3 L246.2,531.5 L246.9,531.7 L247.5,532.0 L248.2,532.2 L248.9,532.5 L249.5,532.7 M260.9,536.5 L261.2,536.6 L261.9,536.9 L262.6,537.1 L263.3,537.3 L264.0,537.6 L264.7,537.8 L265.3,538.0 L266.0,538.3 L266.7,538.5 L267.4,538.7 L268.1,538.9 L268.8,539.2 L269.5,539.4 L270.1,539.6 L270.8,539.9 L271.5,540.1 L272.2,540.3 L272.9,540.5 L273.6,540.8 L274.3,541.0 L274.9,541.2 L275.6,541.5 L276.3,541.7 L277.0,541.9 L277.7,542.1 L278.4,542.4 L279.1,542.6 L279.4,542.7 M290.9,546.4 L291.4,546.6 L292.1,546.8 L292.8,547.1 L293.5,547.3 L294.1,547.5 L294.8,547.7 L295.5,548.0 L296.2,548.2 L296.9,548.4 L297.6,548.6 L298.3,548.8 L298.9,549.1 L299.6,549.3 L300.3,549.5 L301.0,549.7 L301.7,549.9 L302.4,550.2 L303.1,550.4 L303.8,550.6 L304.4,550.8 L305.1,551.0 L305.8,551.3 L306.5,551.5 L307.2,551.7 L307.9,551.9 L308.6,552.1 L309.3,552.4 L309.4,552.4 M320.9,556.1 L320.9,556.1 L321.6,556.3 L322.3,556.5 L323.0,556.7 L323.7,556.9 L324.4,557.1 L325.1,557.3 L325.8,557.6 L326.4,557.8 L327.1,558.0 L327.8,558.2 L328.5,558.4 L329.2,558.6 L329.9,558.9 L330.6,559.1 L331.3,559.3 L332.0,559.5 L332.6,559.7 L333.3,559.9 L334.0,560.1 L334.7,560.3 L335.4,560.6 L336.1,560.8 L336.8,561.0 L337.5,561.2 L338.2,561.4 L338.8,561.6 L339.5,561.8 L339.6,561.8 M351.1,565.3 L351.3,565.4 L352.0,565.6 L352.6,565.8 L353.3,566.0 L354.0,566.2 L354.7,566.4 L355.4,566.6 L356.1,566.9 L356.8,567.1 L357.5,567.3 L358.2,567.5 L358.9,567.7 L359.6,567.9 L360.2,568.1 L360.9,568.3 L361.6,568.5 L362.3,568.7 L363.0,568.9 L363.7,569.1 L364.4,569.3 L365.1,569.5 L365.8,569.7 L366.5,569.9 L367.2,570.1 L367.9,570.3 L368.6,570.5 L369.2,570.7 L369.8,570.9 M381.3,574.3 L381.7,574.4 L382.4,574.6 L383.1,574.8 L383.8,575.0 L384.5,575.2 L385.2,575.4 L385.9,575.6 L386.6,575.8 L387.3,576.0 L388.0,576.1 L388.7,576.3 L389.4,576.5 L390.1,576.7 L390.7,576.9 L391.4,577.1 L392.1,577.3 L392.8,577.5 L393.5,577.7 L394.2,577.9 L394.9,578.1 L395.6,578.3 L396.3,578.5 L397.0,578.7 L397.7,578.9 L398.4,579.1 L399.1,579.3 L399.8,579.5 L400.1,579.6 M411.7,582.7 L412.3,582.9 L413.0,583.1 L413.7,583.3 L414.4,583.5 L415.1,583.6 L415.8,583.8 L416.5,584.0 L417.2,584.2 L417.9,584.4 L418.6,584.6 L419.3,584.8 L420.0,584.9 L420.7,585.1 L421.4,585.3 L422.1,585.5 L422.8,585.7 L423.5,585.9 L424.2,586.1 L424.9,586.2 L425.6,586.4 L426.3,586.6 L427.0,586.8 L427.7,587.0 L428.4,587.1 L429.1,587.3 L429.8,587.5 L430.5,587.7 L430.6,587.7" stroke="#ff0000" stroke-width="2.85"/>
<path d="M95.8,507.8 L96.1,507.5 L96.5,507.0 L96.9,506.6 L97.3,506.3 L97.8,505.9 L98.2,505.5 L98.6,505.1 L99.1,504.8 L99.5,504.4 L100.0,504.1 L100.5,503.8 L100.9,503.5 L101.4,503.2 L101.9,502.9 L102.4,502.6 L102.9,502.3 L103.4,502.1 L103.9,501.8 L104.4,501.6 L104.9,501.3 L105.4,501.1 L105.8,500.9 M116.7,498.2 L117.1,498.1 L117.7,498.1 L118.2,498.0 L118.7,498.0 L119.3,498.0 L119.8,498.0 L120.4,498.0 L120.9,498.0 M132.3,499.1 L132.4,499.1 L133.0,499.2 L133.5,499.4 L134.1,499.5 L134.6,499.6 L135.1,499.7 L135.7,499.8 L136.2,500.0 L136.8,500.1 L137.3,500.3 L137.9,500.4 L138.4,500.5 L139.0,500.7 L139.5,500.9 L140.0,501.0 L140.6,501.2 L141.1,501.3 L141.7,501.5 L142.2,501.7 L142.7,501.8 L143.3,502.0 L143.8,502.2 L144.0,502.3 M154.6,506.2 L154.9,506.3 L155.5,506.5 L156.0,506.8 L156.5,507.0 L157.0,507.2 L157.5,507.4 L158.1,507.7 L158.5,507.8 M168.9,512.8 L169.3,513.0 L169.8,513.2 L170.4,513.5 L170.9,513.8 L171.4,514.0 L171.9,514.3 L172.4,514.5 L172.9,514.8 L173.4,515.1 L173.9,515.3 L174.4,515.6 L174.9,515.9 L175.4,516.1 L175.9,516.4 L176.4,516.7 L176.9,516.9 L177.4,517.2 L177.9,517.5 L178.4,517.7 L178.9,518.0 L179.4,518.3 L179.8,518.5 M189.7,524.1 L189.7,524.1 L190.2,524.4 L190.7,524.6 L191.2,524.9 L191.7,525.2 L192.2,525.5 L192.7,525.8 L193.1,526.0 L193.3,526.1 M203.4,531.9 L203.8,532.2 L204.3,532.5 L204.8,532.7 L205.2,533.0 L205.7,533.3 L206.2,533.6 L206.7,533.9 L207.2,534.1 L207.6,534.4 L208.1,534.7 L208.6,535.0 L209.1,535.3 L209.6,535.5 L210.0,535.8 L210.5,536.1 L211.0,536.4 L211.5,536.7 L212.0,536.9 L212.4,537.2 L212.9,537.5 L213.4,537.8 L213.9,538.1 L214.0,538.1 M223.7,543.9 L223.9,544.0 L224.4,544.3 L224.9,544.6 L225.3,544.9 L225.8,545.2 L226.3,545.5 L226.8,545.8 L227.2,546.0 L227.3,546.1 M237.3,552.1 L237.3,552.1 L237.8,552.4 L238.2,552.7 L238.7,553.0 L239.2,553.3 L239.7,553.6 L240.1,553.9 L240.6,554.2 L241.1,554.5 L241.6,554.7 L242.1,555.0 L242.5,555.3 L243.0,555.6 L243.5,555.9 L244.0,556.2 L244.4,556.5 L244.9,556.8 L245.4,557.1 L245.9,557.4 L246.4,557.7 L246.8,558.0 L247.3,558.3 L247.7,558.5 M257.4,564.5 L257.8,564.8 L258.3,565.1 L258.8,565.4 L259.3,565.7 L259.7,565.9 L260.2,566.2 L260.7,566.5 L261.0,566.7 M270.8,572.8 L271.2,573.1 L271.7,573.4 L272.2,573.7 L272.7,574.0 L273.1,574.3 L273.6,574.6 L274.1,574.9 L274.6,575.1 L275.1,575.4 L275.5,575.7 L276.0,576.0 L276.5,576.3 L277.0,576.6 L277.5,576.9 L277.9,577.2 L278.4,577.5 L278.9,577.8 L279.4,578.1 L279.9,578.4 L280.3,578.7 L280.8,579.0 L281.3,579.3 M291.0,585.3 L291.4,585.5 L291.8,585.8 L292.3,586.1 L292.8,586.4 L293.3,586.7 L293.8,587.0 L294.2,587.3 L294.5,587.5 M304.4,593.5 L304.8,593.7 L305.3,594.0 L305.8,594.3 L306.2,594.6 L306.7,594.9 L307.2,595.2 L307.7,595.5 L308.2,595.8 L308.6,596.0 L309.1,596.3 L309.6,596.6 L310.1,596.9 L310.6,597.2 L311.1,597.5 L311.5,597.8 L312.0,598.1 L312.5,598.4 L313.0,598.6 L313.5,598.9 L313.9,599.2 L314.4,599.5 L314.9,599.8 L315.0,599.8 M324.7,605.6 L325.0,605.8 L325.5,606.1 L326.0,606.4 L326.5,606.6 L326.9,606.9 L327.4,607.2 L327.9,607.5 L328.3,607.8 M338.4,613.6 L338.5,613.7 L339.0,614.0 L339.5,614.3 L340.0,614.5 L340.4,614.8 L340.9,615.1 L341.4,615.4 L341.9,615.7 L342.4,615.9 L342.9,616.2 L343.3,616.5 L343.8,616.8 L344.3,617.1 L344.8,617.4 L345.3,617.6 L345.8,617.9 L346.2,618.2 L346.7,618.5 L347.2,618.8 L347.7,619.0 L348.2,619.3 L348.7,619.6 L349.0,619.8 M358.8,625.5 L358.8,625.5 L359.3,625.8 L359.8,626.1 L360.3,626.4 L360.8,626.6 L361.2,626.9 L361.7,627.2 L362.2,627.5 L362.4,627.6 M372.4,633.5 L372.9,633.7 L373.4,634.0 L373.8,634.3 L374.3,634.6 L374.8,634.9 L375.3,635.2 L375.8,635.5 L376.3,635.8 L376.8,636.0 L377.2,636.3 L377.7,636.6 L378.2,636.9 L378.7,637.2 L379.2,637.5 L379.7,637.8 L380.2,638.1 L380.3,638.1" stroke="#0000ff" stroke-width="2.85"/>
<circle cx="442.7" cy="590.8" r="1.3" fill="#ff0000" stroke="none"/>
<path d="M517.8,566.2 L517.9,565.8 L518.1,565.5 L518.3,565.1 L518.4,564.7 L518.6,564.3 L518.7,563.9 L518.9,563.5 L519.0,563.1 L519.1,562.7 L519.3,562.3 L519.4,561.9 L519.6,561.5 L519.7,561.1 L519.8,560.7 L520.0,560.3 L520.1,559.9 L520.2,559.6 L520.4,559.2 L520.5,558.8 L520.6,558.4 L520.7,558.0 L520.9,557.6 L521.0,557.2 L521.1,556.8 L521.2,556.4 L521.3,556.0 L521.5,555.6 L521.6,555.2 L521.7,554.8 L521.8,554.4 L521.9,554.0 L522.0,553.6 L522.1,553.2 L522.2,552.8 L522.3,552.4 L522.5,552.1 L522.6,551.7 L522.7,551.3 L522.8,550.9 L522.9,550.5 L523.0,550.1 L523.1,549.7 L523.2,549.3 L523.3,548.9 L523.4,548.5 L523.4,548.1 L523.5,547.7 L523.6,547.3 L523.7,546.9 L523.8,546.5 L523.9,546.1 L524.0,545.7 L524.1,545.3 L524.2,544.9 L524.3,544.5 L524.3,544.1 L524.4,543.7 L524.5,543.3 L524.6,542.9 L524.7,542.5 L524.8,542.1 L524.8,541.7 L524.9,541.4 L525.0,541.0 L525.1,540.6 L525.1,540.2 L525.2,539.8 L525.3,539.4 L525.4,539.0 L525.5,538.6 L525.5,538.2 L525.6,537.8 L525.7,537.4 L525.7,537.0 L525.8,536.6 L525.9,536.2 L526.0,535.8 L526.0,535.4 L526.1,535.0 L526.2,534.6 L526.2,534.2 L526.3,533.8 L526.4,533.4 L526.4,533.0 L526.5,532.6 L526.6,532.2 L526.6,531.8 L526.7,531.4 L526.8,531.0 L526.8,530.6 L526.9,530.2 L527.0,529.8 L527.0,529.4 L527.1,529.0 L527.2,528.6 L527.2,528.2 L527.3,527.8 L527.4,527.4 L527.4,527.0 L527.5,526.6 L527.6,526.2 L527.6,525.8 L527.7,525.4 L527.7,525.0 L527.8,524.6 L527.9,524.2 L527.9,523.8 L528.0,523.4 L528.1,523.0 L528.1,522.6 L528.2,522.2 L528.3,521.8 L528.3,521.4 L528.4,521.0 L528.4,520.6 L528.5,520.2 L528.6,519.8 L528.6,519.4 L528.7,519.0 L528.8,518.6 L528.8,518.2 L528.9,517.8 L529.0,517.4 L529.0,517.0 L529.1,516.6 L529.2,516.2 L529.2,515.8 L529.3,515.4 L529.4,515.0 L529.4,514.6 L529.5,514.2 L529.5,513.8 L529.6,513.4 L529.7,513.0 L529.7,512.6 L529.8,512.2 L529.9,511.8 L529.9,511.4 L530.0,511.0 L530.1,510.6 L530.1,510.2 L530.2,509.8 L530.3,509.4 L530.3,509.0 L530.4,508.6 L530.5,508.2 L530.5,507.8 L530.6,507.4 L530.7,507.0 L530.7,506.6 L530.8,506.2 L530.9,505.8 L530.9,505.4 L531.0,505.0 L531.1,504.6 L531.1,504.2 L531.2,503.8 L531.3,503.4 L531.3,503.0 L531.4,502.6 L531.5,502.2 L531.6,501.8 L531.6,501.4 L531.7,501.0 L531.8,500.6 L531.8,500.2 L531.9,499.8 L532.0,499.4 L532.0,499.0 L532.1,498.6 L532.2,498.2 L532.2,497.8 L532.3,497.4 L532.4,497.0 L532.4,496.6 L532.5,496.2 L532.6,495.8 L532.6,495.4 L532.7,494.9 L532.8,494.5 L532.9,494.1 L532.9,493.7 L533.0,493.3 L533.1,492.9 L533.1,492.5 L533.2,492.1 L533.3,491.7 L533.3,491.3 L533.4,490.9 L533.5,490.5 L533.6,490.1 L533.6,489.7 L533.7,489.3 L533.8,488.9 L533.8,488.5 L533.9,488.1 L534.0,487.7 L534.1,487.3 L534.1,486.9 L534.2,486.5 L534.3,486.1 L534.3,485.7 L534.4,485.3 L534.5,484.9 L534.6,484.5 L534.6,484.1 L534.7,483.7 L534.8,483.3 L534.8,482.9 L534.9,482.5 L535.0,482.1 L535.1,481.7 L535.1,481.3 L535.2,480.9 L535.3,480.5 L535.4,480.1 L535.4,479.6 L535.5,479.2 L535.6,478.8 L535.6,478.4 L535.7,478.0 L535.8,477.6 L535.9,477.2 L535.9,476.8 L536.0,476.4 L536.1,476.0 L536.2,475.6 L536.2,475.2 L536.3,474.8 L536.4,474.4 L536.5,474.0 L536.5,473.6 L536.6,473.2 L536.7,472.8 L536.8,472.4 L536.8,472.0 L536.9,471.6 L537.0,471.2 L537.1,470.8 L537.1,470.4 L537.2,470.0 L537.3,469.6 L537.4,469.2 L537.4,468.8 L537.5,468.4 L537.6,468.0 L537.7,467.6 L537.7,467.1 L537.8,466.7 L537.9,466.3 L538.0,465.9 L538.0,465.5 L538.1,465.1 L538.2,464.7 L538.3,464.3 L538.4,463.9 L538.4,463.5 L538.5,463.1 L538.6,462.7 L538.7,462.3 L538.7,461.9 L538.8,461.5 L538.9,461.1 L539.0,460.7 L539.0,460.3 L539.1,459.9 L539.2,459.5 L539.3,459.1 L539.4,458.7 L539.4,458.3 L539.5,457.9 L539.6,457.5 L539.7,457.1 L539.8,456.7 L539.8,456.3 L539.9,455.9 L540.0,455.5 L540.1,455.0 L540.1,454.6 L540.2,454.2 L540.3,453.8 L540.4,453.4 L540.5,453.0 L540.5,452.6 L540.6,452.2 L540.7,451.8 L540.8,451.4 L540.9,451.0 L540.9,450.6 L541.0,450.2 L541.1,449.8 L541.2,449.4 L541.3,449.0 L541.3,448.6 L541.4,448.2 L541.5,447.8 L541.6,447.4 L541.7,447.0 L541.8,446.6 L541.8,446.2 L541.9,445.8 L542.0,445.4 L542.1,445.0 L542.2,444.6 L542.2,444.2 L542.3,443.8 L542.4,443.4 L542.5,442.9 L542.6,442.5 L542.7,442.1 L542.7,441.7 L542.8,441.3 L542.9,440.9 L543.0,440.5 L543.1,440.1 L543.1,439.7 L543.2,439.3 L543.3,438.9 L543.4,438.5 L543.5,438.1 L543.6,437.7 L543.7,437.3 L543.7,436.9 L543.8,436.5 L543.9,436.1 L544.0,435.7 L544.1,435.3 L544.2,434.9 L544.3,434.5 L544.4,434.1 L544.4,433.7 L544.5,433.3 L544.6,432.9 L544.7,432.5 L544.8,432.1 L544.9,431.7 L545.0,431.3 L545.1,430.9 L545.2,430.5 L545.3,430.1 L545.4,429.7 L545.5,429.3 L545.6,428.9 L545.7,428.5 L545.8,428.1 L545.9,427.7 L546.0,427.3 L546.1,426.9 L546.2,426.5 L546.3,426.2 L546.4,425.8 L546.5,425.4 L546.6,425.0 L546.8,424.6 L546.9,424.2 L547.0,423.8 L547.1,423.4 L547.2,423.0 L547.3,422.6 L547.5,422.3 L547.6,421.9 L547.7,421.5 L547.8,421.1 L548.0,420.7 L548.1,420.3 L548.2,419.9 L548.4,419.6 L548.5,419.2 L548.6,418.8 L548.8,418.4 L548.9,418.0 L549.0,417.7 L549.2,417.3 L549.3,416.9 L549.5,416.5 L549.6,416.2 L549.8,415.8 L549.9,415.4 L550.1,415.0 L550.2,414.7 L550.4,414.3 L550.5,413.9 L550.7,413.6 L550.9,413.2 L551.0,412.8 L551.2,412.5 L551.4,412.1 L551.5,411.7 L551.7,411.4 L551.9,411.0 L552.1,410.6 L552.3,410.3 L552.4,409.9 L552.6,409.6 L552.8,409.2 L553.0,408.9 L553.2,408.5 L553.4,408.1 L553.6,407.8 L553.8,407.4 L554.0,407.1 L554.2,406.7 L554.4,406.4 L554.6,406.0 L554.8,405.7 L555.1,405.4 L555.3,405.0 L555.5,404.7 L555.7,404.3 L556.0,404.0 L556.2,403.7 L556.4,403.3 L556.7,403.0 L556.9,402.7 L557.1,402.3 L557.4,402.0 L557.6,401.7 L557.9,401.4 L558.2,401.0 L558.4,400.7 L558.7,400.4 L558.9,400.1 L559.2,399.8 L559.5,399.5 L559.7,399.2 L560.0,398.9 L560.3,398.6 L560.6,398.3 L560.9,398.0 L561.2,397.7 L561.5,397.4 L561.8,397.2 L562.1,396.9 L562.4,396.6 L562.7,396.4 L563.0,396.1 L563.3,395.9 L563.6,395.6 L563.9,395.4 L564.3,395.1 L564.6,394.9 L564.9,394.7 L565.3,394.5 L565.6,394.3 L565.9,394.0 L566.3,393.8 L566.6,393.7 L567.0,393.5 L567.3,393.3 L567.7,393.1 L568.1,392.9 L568.4,392.8 L568.8,392.6 L569.2,392.5 L569.6,392.3 L569.9,392.2 L570.3,392.1 L570.7,392.0 L571.1,391.9 L571.5,391.7 L571.9,391.6 L572.3,391.6 L572.7,391.5 L573.1,391.4 L573.5,391.3 L573.9,391.3 L574.3,391.2 L574.7,391.1 L575.1,391.1 L575.5,391.1 L575.9,391.0 L576.3,391.0 L576.7,391.0 L577.1,391.0 L577.5,391.0 L577.9,391.0 L578.3,391.0 L578.7,391.0 L579.1,391.0 L579.6,391.0 L580.0,391.0 L580.4,391.1 L580.8,391.1 L581.2,391.1 L581.6,391.2 L582.0,391.2 L582.4,391.3 L582.8,391.4 L583.3,391.4 L583.7,391.5 L584.1,391.6 L584.5,391.6 L584.9,391.7 L585.3,391.8 L585.7,391.9 L586.1,392.0 L586.5,392.1 L586.9,392.2 L587.3,392.3 L587.7,392.4 L588.1,392.6 L588.5,392.7 L588.9,392.8 L589.3,392.9 L589.7,393.1 L590.1,393.2 L590.5,393.3 L590.9,393.5 L591.3,393.6 L591.7,393.8 L592.1,393.9 L592.5,394.1 L592.9,394.2 L593.3,394.4 L593.6,394.5 L594.0,394.7 L594.4,394.9 L594.8,395.0 L595.2,395.2 L595.5,395.4 L595.9,395.5 L596.3,395.7 L596.7,395.9 L597.0,396.1 L597.4,396.2 L597.8,396.4 L598.1,396.6 L598.5,396.8 L598.8,397.0 L599.2,397.2 L599.6,397.4 L599.9,397.6 L600.3,397.8 L600.6,398.0 L601.0,398.2 L601.3,398.4 L601.7,398.6 L602.0,398.8 L602.4,399.0 L602.7,399.2 L603.1,399.4 L603.4,399.6 L603.8,399.8 L604.1,400.0 L604.5,400.2 L604.8,400.4 L605.2,400.6 L605.5,400.8 L605.8,401.0 L606.2,401.3 L606.5,401.5 L606.9,401.7 L607.2,401.9 L607.6,402.1 L607.9,402.3 L608.2,402.6 L608.6,402.8 L608.9,403.0 L609.3,403.2 L609.6,403.4 L609.9,403.7 L610.3,403.9 L610.6,404.1 L610.9,404.3 L611.3,404.5 L611.6,404.8 L612.0,405.0 L612.3,405.2 L612.6,405.4 L613.0,405.6 L613.3,405.9 L613.7,406.1 L614.0,406.3 L614.4,406.5 L614.7,406.7 L615.0,407.0 L615.4,407.2 L615.7,407.4 L616.1,407.6 L616.4,407.8 L616.8,408.0 L617.1,408.3 L617.5,408.5 L617.8,408.7 L618.2,408.9 L618.5,409.1 L618.9,409.3 L619.2,409.5 L619.6,409.7 L619.9,410.0 L620.3,410.2 L620.6,410.3" stroke="#00ff00"/>
<path d="M621.2,408.6 L621.6,408.8 L622.0,409.1 L622.4,409.3 L622.8,409.6 L623.2,409.8 L623.6,410.1 L624.0,410.3 L624.4,410.6 L624.8,410.8 L625.2,411.1 L625.6,411.3 L626.0,411.6 L626.4,411.8 L626.8,412.0 L627.2,412.3 L627.6,412.5 L628.0,412.8 L628.4,413.0 L628.8,413.3 L629.2,413.5 L629.6,413.8 L630.0,414.0 L630.4,414.2 L630.8,414.5 L631.3,414.7 L631.7,415.0 L632.1,415.2 L632.5,415.5 L632.9,415.7 L633.3,416.0 L633.7,416.2 L634.1,416.4 L634.5,416.7 L634.9,416.9 L635.3,417.2 L635.7,417.4 L636.1,417.6 L636.6,417.9 L637.0,418.1 L637.4,418.4 L637.8,418.6 L638.0,418.8 M648.6,424.7 L649.0,425.0 L649.4,425.2 L649.8,425.4 L650.2,425.6 L650.6,425.9 L651.0,426.1 L651.5,426.3 L651.9,426.6 L652.3,426.8 L652.7,427.0 L653.1,427.2 L653.6,427.5 L654.0,427.7 L654.4,427.9 L654.8,428.2 L655.2,428.4 L655.7,428.6 L656.1,428.8 L656.5,429.1 L656.9,429.3 L657.3,429.5 L657.8,429.7 L658.2,429.9 L658.6,430.2 L659.0,430.4 L659.5,430.6 L659.9,430.8 L660.3,431.1 L660.7,431.3 L661.2,431.5 L661.6,431.7 L662.0,431.9 L662.4,432.1 L662.8,432.4 L663.3,432.6 L663.7,432.8 L664.1,433.0 L664.6,433.2 L665.0,433.4 L665.4,433.7 L665.8,433.9 L665.9,433.9 M676.8,439.2 L677.0,439.3 L677.4,439.5 L677.9,439.7 L678.3,439.9 L678.7,440.1 L679.2,440.3 L679.6,440.5 L680.0,440.7 L680.5,440.9 L680.9,441.1 L681.3,441.3 L681.8,441.4 L682.2,441.6 L682.6,441.8 L683.1,442.0 L683.5,442.2 L683.9,442.4 L684.4,442.6 L684.8,442.8 L685.2,443.0 L685.7,443.2 L686.1,443.4 L686.6,443.6 L687.0,443.7 L687.4,443.9 L687.9,444.1 L688.3,444.3 L688.7,444.5 L689.2,444.7 L689.6,444.9 L690.1,445.0 L690.5,445.2 L690.9,445.4 L691.4,445.6 L691.8,445.8 L692.2,446.0 L692.7,446.1 L693.1,446.3 L693.6,446.5 L694.0,446.7 L694.4,446.9 L694.7,447.0 M706.0,451.4 L706.4,451.5 L706.8,451.7 L707.3,451.9 L707.7,452.0 L708.2,452.2 L708.6,452.3 L709.1,452.5 L709.5,452.7 L710.0,452.8 L710.4,453.0 L710.9,453.2 L711.3,453.3 L711.8,453.5 L712.2,453.6 L712.6,453.8 L713.1,453.9 L713.5,454.1 L714.0,454.3 L714.4,454.4 L714.9,454.6 L715.3,454.7 L715.8,454.9 L716.2,455.0 L716.7,455.2 L717.1,455.4 L717.6,455.5 L718.0,455.7 L718.5,455.8 L718.9,456.0 L719.4,456.1 L719.8,456.3 L720.3,456.4 L720.7,456.6 L721.2,456.7 L721.6,456.9 L722.1,457.0 L722.5,457.2 L723.0,457.3 L723.4,457.5 L723.9,457.6 L724.3,457.7 L724.4,457.8 M735.9,461.3 L736.1,461.4 L736.6,461.5 L737.0,461.7 L737.5,461.8 L737.9,461.9 L738.4,462.1 L738.9,462.2 L739.3,462.3 L739.8,462.4 L740.2,462.6 L740.7,462.7 L741.1,462.8 L741.6,463.0 L742.0,463.1 L742.5,463.2 L743.0,463.4 L743.4,463.5 L743.9,463.6 L744.3,463.7 L744.8,463.9 L745.2,464.0 L745.7,464.1 L746.2,464.2 L746.6,464.4 L747.1,464.5 L747.5,464.6 L748.0,464.7 L748.5,464.9 L748.9,465.0 L749.4,465.1 L749.8,465.2 L750.3,465.3 L750.7,465.5 L751.2,465.6 L751.7,465.7 L752.1,465.8 L752.6,465.9 L753.0,466.1 L753.5,466.2 L754.0,466.3 L754.4,466.4 L754.7,466.5 M766.4,469.3 L766.4,469.3 L766.9,469.4 L767.3,469.5 L767.8,469.6 L768.3,469.7 L768.7,469.8 L769.2,469.9 L769.7,470.0 L770.1,470.1 L770.6,470.2 L771.1,470.3 L771.5,470.5 L772.0,470.6 L772.4,470.7 L772.9,470.8 L773.4,470.9 L773.8,471.0 L774.3,471.1 L774.8,471.2 L775.2,471.3 L775.7,471.4 L776.2,471.5 L776.6,471.6 L777.1,471.7 L777.6,471.8 L778.0,471.8 L778.5,471.9 L779.0,472.0 L779.4,472.1 L779.9,472.2 L780.3,472.3 L780.8,472.4 L781.3,472.5 L781.7,472.6 L782.2,472.7 L782.7,472.8 L783.1,472.9 L783.6,473.0 L784.1,473.1 L784.5,473.2 L785.0,473.3 L785.5,473.4 M797.3,475.6 L797.6,475.7 L798.1,475.8 L798.6,475.8 L799.0,475.9 L799.5,476.0 L800.0,476.1 L800.4,476.2 L800.9,476.3 L801.4,476.3 L801.8,476.4 L802.3,476.5 L802.8,476.6 L803.2,476.7 L803.7,476.8 L804.2,476.8 L804.6,476.9 L805.1,477.0 L805.6,477.1 L806.1,477.2 L806.5,477.2 L807.0,477.3 L807.5,477.4 L807.9,477.5 L808.4,477.6 L808.9,477.6 L809.3,477.7 L809.8,477.8 L810.3,477.9 L810.7,478.0 L811.2,478.0 L811.7,478.1 L812.2,478.2 L812.6,478.3 L813.1,478.3 L813.6,478.4 L814.0,478.5 L814.5,478.6 L815.0,478.7 L815.4,478.7 L815.9,478.8 L816.4,478.9 L816.5,478.9 M828.3,480.8 L828.6,480.8 L829.1,480.9 L829.6,480.9 L830.0,481.0 L830.5,481.1 L831.0,481.2 L831.4,481.2 L831.9,481.3 L832.4,481.4 L832.8,481.4 L833.3,481.5 L833.8,481.6 L834.3,481.6 L834.7,481.7 L835.2,481.8 L835.7,481.9 L836.1,481.9 L836.6,482.0 L837.1,482.1 L837.6,482.1 L838.0,482.2 L838.5,482.3 L839.0,482.3 L839.4,482.4 L839.9,482.5 L840.4,482.5 L840.9,482.6 L841.3,482.7 L841.8,482.8 L842.3,482.8 L842.7,482.9 L843.2,483.0 L843.7,483.0 L844.2,483.1 L844.6,483.2 L845.1,483.2 L845.6,483.3 L846.0,483.4 L846.5,483.4 L847.0,483.5 L847.4,483.6 L847.6,483.6 M859.5,485.2 L859.7,485.3 L860.2,485.3 L860.6,485.4 L861.1,485.5 L861.6,485.5 L862.0,485.6 L862.5,485.7 L863.0,485.7 L863.5,485.8 L863.9,485.9 L864.4,485.9 L864.9,486.0 L865.3,486.1 L865.8,486.1 L866.3,486.2 L866.8,486.3 L867.2,486.3 L867.7,486.4 L868.2,486.5 L868.6,486.5 L869.1,486.6 L869.6,486.7 L870.0,486.7 L870.5,486.8 L871.0,486.8 L871.5,486.9 L871.9,487.0 L872.4,487.0 L872.9,487.1 L873.3,487.2 L873.8,487.2 L874.3,487.3 L874.7,487.4 L875.2,487.4 L875.7,487.5 L876.2,487.6 L876.6,487.6 L877.1,487.7 L877.6,487.8 L878.0,487.8 L878.5,487.9 L878.7,487.9" stroke="#00ff00" stroke-width="2.85"/>
<path d="M546.4,428.6 L546.4,428.6 L546.6,428.1 L546.8,427.5 L546.9,427.0 L547.1,426.4 L547.3,425.9 L547.5,425.3 L547.6,424.7 L547.8,424.2 L548.0,423.6 L548.2,423.0 L548.3,422.4 L548.5,421.9 L548.7,421.3 L548.9,420.7 L549.1,420.1 L549.3,419.5 L549.5,419.0 L549.7,418.4 L549.9,417.8 L550.0,417.3 M554.9,406.0 L554.9,405.9 L555.2,405.4 L555.5,404.9 L555.8,404.4 L556.1,403.9 L556.5,403.4 L556.8,402.8 L556.8,402.8 M565.4,394.2 L565.6,394.0 L566.1,393.7 L566.6,393.4 L567.1,393.1 L567.6,392.8 L568.1,392.6 L568.7,392.3 L569.2,392.1 L569.7,391.9 L570.3,391.7 L570.8,391.5 L571.4,391.3 L571.9,391.1 L572.5,391.0 L573.0,390.9 L573.6,390.8 L574.2,390.7 L574.7,390.6 L575.3,390.5 L575.9,390.5 L576.1,390.5 M587.8,392.7 L588.2,392.8 L588.7,393.1 L589.2,393.3 L589.8,393.6 L590.3,393.9 L590.8,394.1 L591.1,394.3 M601.2,401.0 L601.4,401.2 L601.9,401.6 L602.4,401.9 L602.9,402.3 L603.4,402.7 L603.8,403.0 L604.3,403.4 L604.8,403.8 L605.3,404.2 L605.7,404.5 L606.2,404.9 L606.7,405.3 L607.2,405.7 L607.6,406.0 L608.1,406.4 L608.6,406.8 L609.0,407.2 L609.5,407.5 L610.0,407.9 L610.3,408.2 M619.6,416.0 L620.0,416.3 L620.5,416.7 L620.9,417.1 L621.4,417.5 L621.8,417.9 L622.3,418.3 L622.4,418.4 M631.6,426.4 L631.7,426.4 L632.1,426.8 L632.6,427.2 L633.0,427.6 L633.5,428.0 L633.9,428.4 L634.4,428.8 L634.8,429.2 L635.3,429.6 L635.7,430.0 L636.2,430.3 L636.6,430.7 L637.1,431.1 L637.5,431.5 L638.0,431.9 L638.4,432.3 L638.9,432.7 L639.3,433.1 L639.8,433.5 L640.2,433.8 L640.4,434.0 M649.6,441.9 L649.7,442.0 L650.2,442.4 L650.6,442.7 L651.1,443.1 L651.5,443.5 L652.0,443.9 L652.5,444.3 L652.5,444.3 M661.9,452.0 L662.1,452.2 L662.6,452.5 L663.0,452.9 L663.5,453.3 L664.0,453.7 L664.4,454.0 L664.9,454.4 L665.4,454.8 L665.8,455.1 L666.3,455.5 L666.8,455.9 L667.2,456.2 L667.7,456.6 L668.2,457.0 L668.6,457.3 L669.1,457.7 L669.6,458.0 L670.0,458.4 L670.5,458.8 L671.0,459.1 L671.1,459.2 M680.8,466.4 L681.0,466.6 L681.5,466.9 L681.9,467.3 L682.4,467.6 L682.9,468.0 L683.4,468.3 L683.8,468.6 M693.7,475.6 L694.1,475.8 L694.6,476.2 L695.1,476.5 L695.6,476.8 L696.1,477.2 L696.5,477.5 L697.0,477.8 L697.5,478.2 L698.0,478.5 L698.5,478.8 L699.0,479.2 L699.5,479.5 L700.0,479.8 L700.5,480.1 L701.0,480.5 L701.5,480.8 L702.0,481.1 L702.5,481.5 L703.0,481.8 L703.3,482.0 M713.5,488.6 L714.0,488.9 L714.5,489.2 L715.0,489.5 L715.5,489.8 L716.0,490.1 L716.5,490.4 L716.6,490.5 M727.0,496.8 L727.1,496.9 L727.7,497.2 L728.2,497.6 L728.7,497.9 L729.2,498.2 L729.7,498.5 L730.2,498.8 L730.7,499.1 L731.2,499.4 L731.8,499.7 L732.3,500.0 L732.8,500.3 L733.3,500.6 L733.8,500.9 L734.3,501.2 L734.8,501.5 L735.4,501.8 L735.9,502.1 L736.4,502.4 L736.9,502.7 L736.9,502.7 M747.4,508.6 L747.8,508.8 L748.3,509.1 L748.8,509.4 L749.3,509.7 L749.9,510.0 L750.4,510.3 L750.6,510.4 M761.3,516.2 L761.4,516.2 L761.9,516.5 L762.4,516.8 L763.0,517.1 L763.5,517.3 L764.0,517.6 L764.5,517.9 L765.1,518.2 L765.6,518.5 L766.1,518.7 L766.6,519.0 L767.2,519.3 L767.7,519.6 L768.2,519.8 L768.7,520.1 L769.3,520.4 L769.8,520.7 L770.3,520.9 L770.9,521.2 L771.4,521.5 L771.5,521.5 M782.2,527.0 L782.5,527.2 L783.1,527.4 L783.6,527.7 L784.1,528.0 L784.7,528.2 L785.2,528.5 L785.5,528.7 M796.4,534.0 L796.4,534.0 L796.9,534.3 L797.5,534.5 L798.0,534.8 L798.5,535.1 L799.1,535.3 L799.6,535.6 L800.1,535.8 L800.7,536.1 L801.2,536.4 L801.7,536.6 L802.3,536.9 L802.8,537.1 L803.3,537.4 L803.9,537.6 L804.4,537.9 L805.0,538.2 L805.5,538.4 L806.0,538.7 L806.6,538.9 L806.8,539.0 M817.6,544.1 L817.8,544.2 L818.4,544.5 L818.9,544.7 L819.5,545.0 L820.0,545.2 L820.5,545.5 L821.0,545.7" stroke="#000000" stroke-width="2.55"/>
</g>
<path d="M64.75,568.4 H443.1 M516.8,568.4 H886.5" fill="none" stroke="#000" stroke-width="2.9"/>
<g font-family="'Liberation Serif', serif" font-weight="bold" fill="#000">
<text transform="translate(14.59,337.50) scale(1.08,1)" font-size="26.6" letter-spacing="-0.3" stroke="#000" stroke-width="0.7" stroke-linejoin="round">0.0</text>
<text transform="translate(14.59,257.06) scale(1.08,1)" font-size="26.6" letter-spacing="-0.3" stroke="#000" stroke-width="0.7" stroke-linejoin="round">0.4</text>
<text transform="translate(14.59,176.62) scale(1.08,1)" font-size="26.6" letter-spacing="-0.3" stroke="#000" stroke-width="0.7" stroke-linejoin="round">0.8</text>
<text transform="translate(14.59,96.19) scale(1.08,1)" font-size="26.6" letter-spacing="-0.3" stroke="#000" stroke-width="0.7" stroke-linejoin="round">1.2</text>
<text transform="translate(14.59,15.75) scale(1.08,1)" font-size="26.6" letter-spacing="-0.3" stroke="#000" stroke-width="0.7" stroke-linejoin="round">1.6</text>
<text transform="translate(466.64,337.50) scale(1.08,1)" font-size="26.6" letter-spacing="-0.3" stroke="#000" stroke-width="0.7" stroke-linejoin="round">0.0</text>
<text transform="translate(466.64,297.28) scale(1.08,1)" font-size="26.6" letter-spacing="-0.3" stroke="#000" stroke-width="0.7" stroke-linejoin="round">0.1</text>
<text transform="translate(466.64,257.06) scale(1.08,1)" font-size="26.6" letter-spacing="-0.3" stroke="#000" stroke-width="0.7" stroke-linejoin="round">0.2</text>
<text transform="translate(466.64,216.84) scale(1.08,1)" font-size="26.6" letter-spacing="-0.3" stroke="#000" stroke-width="0.7" stroke-linejoin="round">0.3</text>
<text transform="translate(466.64,176.62) scale(1.08,1)" font-size="26.6" letter-spacing="-0.3" stroke="#000" stroke-width="0.7" stroke-linejoin="round">0.4</text>
<text transform="translate(466.64,136.41) scale(1.08,1)" font-size="26.6" letter-spacing="-0.3" stroke="#000" stroke-width="0.7" stroke-linejoin="round">0.5</text>
<text transform="translate(466.64,96.19) scale(1.08,1)" font-size="26.6" letter-spacing="-0.3" stroke="#000" stroke-width="0.7" stroke-linejoin="round">0.6</text>
<text transform="translate(466.64,55.97) scale(1.08,1)" font-size="26.6" letter-spacing="-0.3" stroke="#000" stroke-width="0.7" stroke-linejoin="round">0.7</text>
<text transform="translate(466.64,15.75) scale(1.08,1)" font-size="26.6" letter-spacing="-0.3" stroke="#000" stroke-width="0.7" stroke-linejoin="round">0.8</text>
<text transform="translate(14.59,657.70) scale(1.08,1)" font-size="26.6" letter-spacing="-0.3" stroke="#000" stroke-width="0.7" stroke-linejoin="round">0.2</text>
<rect x="-0.31" y="648.10" width="14.6" height="3"/>
<text transform="translate(14.59,617.67) scale(1.08,1)" font-size="26.6" letter-spacing="-0.3" stroke="#000" stroke-width="0.7" stroke-linejoin="round">0.1</text>
<rect x="-0.31" y="608.08" width="14.6" height="3"/>
<text transform="translate(14.59,577.65) scale(1.08,1)" font-size="26.6" letter-spacing="-0.3" stroke="#000" stroke-width="0.7" stroke-linejoin="round">0.0</text>
<text transform="translate(14.59,537.62) scale(1.08,1)" font-size="26.6" letter-spacing="-0.3" stroke="#000" stroke-width="0.7" stroke-linejoin="round">0.1</text>
<text transform="translate(14.59,497.60) scale(1.08,1)" font-size="26.6" letter-spacing="-0.3" stroke="#000" stroke-width="0.7" stroke-linejoin="round">0.2</text>
<text transform="translate(14.59,457.57) scale(1.08,1)" font-size="26.6" letter-spacing="-0.3" stroke="#000" stroke-width="0.7" stroke-linejoin="round">0.3</text>
<text transform="translate(14.59,417.55) scale(1.08,1)" font-size="26.6" letter-spacing="-0.3" stroke="#000" stroke-width="0.7" stroke-linejoin="round">0.4</text>
<text transform="translate(14.59,377.52) scale(1.08,1)" font-size="26.6" letter-spacing="-0.3" stroke="#000" stroke-width="0.7" stroke-linejoin="round">0.5</text>
<text transform="translate(466.64,657.70) scale(1.08,1)" font-size="26.6" letter-spacing="-0.3" stroke="#000" stroke-width="0.7" stroke-linejoin="round">0.2</text>
<rect x="451.74" y="648.10" width="14.6" height="3"/>
<text transform="translate(466.64,617.67) scale(1.08,1)" font-size="26.6" letter-spacing="-0.3" stroke="#000" stroke-width="0.7" stroke-linejoin="round">0.1</text>
<rect x="451.74" y="608.08" width="14.6" height="3"/>
<text transform="translate(466.64,577.65) scale(1.08,1)" font-size="26.6" letter-spacing="-0.3" stroke="#000" stroke-width="0.7" stroke-linejoin="round">0.0</text>
<text transform="translate(466.64,537.62) scale(1.08,1)" font-size="26.6" letter-spacing="-0.3" stroke="#000" stroke-width="0.7" stroke-linejoin="round">0.1</text>
<text transform="translate(466.64,497.60) scale(1.08,1)" font-size="26.6" letter-spacing="-0.3" stroke="#000" stroke-width="0.7" stroke-linejoin="round">0.2</text>
<text transform="translate(466.64,457.57) scale(1.08,1)" font-size="26.6" letter-spacing="-0.3" stroke="#000" stroke-width="0.7" stroke-linejoin="round">0.3</text>
<text transform="translate(466.64,417.55) scale(1.08,1)" font-size="26.6" letter-spacing="-0.3" stroke="#000" stroke-width="0.7" stroke-linejoin="round">0.4</text>
<text transform="translate(466.64,377.52) scale(1.08,1)" font-size="26.6" letter-spacing="-0.3" stroke="#000" stroke-width="0.7" stroke-linejoin="round">0.5</text>
<text transform="translate(45.02,678.60) scale(1.08,1)" font-size="26.6" letter-spacing="-0.3" stroke="#000" stroke-width="0.7" stroke-linejoin="round">0.0</text>
<text transform="translate(108.08,678.60) scale(1.08,1)" font-size="26.6" letter-spacing="-0.3" stroke="#000" stroke-width="0.7" stroke-linejoin="round">2.0</text>
<text transform="translate(171.14,678.60) scale(1.08,1)" font-size="26.6" letter-spacing="-0.3" stroke="#000" stroke-width="0.7" stroke-linejoin="round">4.0</text>
<text transform="translate(234.19,678.60) scale(1.08,1)" font-size="26.6" letter-spacing="-0.3" stroke="#000" stroke-width="0.7" stroke-linejoin="round">6.0</text>
<text transform="translate(297.25,678.60) scale(1.08,1)" font-size="26.6" letter-spacing="-0.3" stroke="#000" stroke-width="0.7" stroke-linejoin="round">8.0</text>
<text transform="translate(353.29,678.60) scale(1.08,1)" font-size="26.6" letter-spacing="-0.3" stroke="#000" stroke-width="0.7" stroke-linejoin="round">10.0</text>
<text transform="translate(416.35,678.60) scale(1.08,1)" font-size="26.6" letter-spacing="-0.3" stroke="#000" stroke-width="0.7" stroke-linejoin="round">12.0</text>
<text transform="translate(497.07,678.60) scale(1.08,1)" font-size="26.6" letter-spacing="-0.3" stroke="#000" stroke-width="0.7" stroke-linejoin="round">0.0</text>
<text transform="translate(558.69,678.60) scale(1.08,1)" font-size="26.6" letter-spacing="-0.3" stroke="#000" stroke-width="0.7" stroke-linejoin="round">2.0</text>
<text transform="translate(620.30,678.60) scale(1.08,1)" font-size="26.6" letter-spacing="-0.3" stroke="#000" stroke-width="0.7" stroke-linejoin="round">4.0</text>
<text transform="translate(681.92,678.60) scale(1.08,1)" font-size="26.6" letter-spacing="-0.3" stroke="#000" stroke-width="0.7" stroke-linejoin="round">6.0</text>
<text transform="translate(743.54,678.60) scale(1.08,1)" font-size="26.6" letter-spacing="-0.3" stroke="#000" stroke-width="0.7" stroke-linejoin="round">8.0</text>
<text transform="translate(798.13,678.60) scale(1.08,1)" font-size="26.6" letter-spacing="-0.3" stroke="#000" stroke-width="0.7" stroke-linejoin="round">10.0</text>
<text transform="translate(859.75,678.60) scale(1.08,1)" font-size="26.6" letter-spacing="-0.3" stroke="#000" stroke-width="0.7" stroke-linejoin="round">12.0</text>
<text transform="translate(78.09,50.15) scale(0.758,1)" font-size="34.4" fill="#000" stroke="#000" stroke-width="1.1" stroke-linejoin="round">Q</text>
<text transform="translate(99.55,37.55) scale(1.009,1)" font-size="21.8" fill="#000" stroke="#000" stroke-width="0.8" stroke-linejoin="round">4</text>
<text transform="translate(110.37,50.15) scale(0.961,1)" font-size="34.4" fill="#000" stroke="#000" stroke-width="1.0" stroke-linejoin="round">F</text>
<text transform="translate(131.51,63.05) scale(1.047,1)" font-size="21.0" fill="#000" stroke="#000" stroke-width="0.8" stroke-linejoin="round">1u</text>
<text transform="translate(530.14,50.15) scale(0.758,1)" font-size="34.4" fill="#000" stroke="#000" stroke-width="1.1" stroke-linejoin="round">Q</text>
<text transform="translate(551.60,37.55) scale(1.009,1)" font-size="21.8" fill="#000" stroke="#000" stroke-width="0.8" stroke-linejoin="round">4</text>
<text transform="translate(562.42,50.15) scale(0.961,1)" font-size="34.4" fill="#000" stroke="#000" stroke-width="1.0" stroke-linejoin="round">F</text>
<text transform="translate(582.55,63.05) scale(1.133,1)" font-size="21.0" fill="#000" stroke="#000" stroke-width="0.8" stroke-linejoin="round">2u</text>
<text transform="translate(78.09,371.90) scale(0.758,1)" font-size="34.4" fill="#000" stroke="#000" stroke-width="1.1" stroke-linejoin="round">Q</text>
<text transform="translate(99.55,359.30) scale(1.009,1)" font-size="21.8" fill="#000" stroke="#000" stroke-width="0.8" stroke-linejoin="round">4</text>
<text transform="translate(110.37,371.90) scale(0.961,1)" font-size="34.4" fill="#000" stroke="#000" stroke-width="1.0" stroke-linejoin="round">F</text>
<text transform="translate(131.61,384.80) scale(0.969,1)" font-size="21.0" fill="#000" stroke="#000" stroke-width="0.8" stroke-linejoin="round">1d</text>
<rect x="531.90" y="359.30" width="19.2" height="3.4"/>
<text transform="translate(553.04,371.90) scale(0.758,1)" font-size="34.4" fill="#000" stroke="#000" stroke-width="1.1" stroke-linejoin="round">Q</text>
<text transform="translate(574.50,359.30) scale(1.009,1)" font-size="21.8" fill="#000" stroke="#000" stroke-width="0.8" stroke-linejoin="round">4</text>
<text transform="translate(585.32,371.90) scale(0.961,1)" font-size="34.4" fill="#000" stroke="#000" stroke-width="1.0" stroke-linejoin="round">F</text>
<text transform="translate(605.48,384.80) scale(1.084,1)" font-size="21.0" fill="#000" stroke="#000" stroke-width="0.8" stroke-linejoin="round">2d</text>
<text transform="translate(188.38,702.40) scale(0.909,1)" font-size="26.6" fill="#000" stroke="#000" stroke-width="0.8" stroke-linejoin="round">Q</text>
<text transform="translate(206.88,695.20) scale(1.049,1)" font-size="19.0" fill="#000" stroke="#000" stroke-width="0.6" stroke-linejoin="round">2</text>
<text transform="translate(231.85,704.70) scale(0.785,1)" font-size="32.5" fill="#000" stroke="#000" stroke-width="0.7" stroke-linejoin="round">(</text>
<text transform="translate(241.19,702.40) scale(1.017,1)" font-size="26.6" fill="#000" stroke="#000" stroke-width="0.8" stroke-linejoin="round">G</text>
<text transform="translate(262.13,702.40) scale(1.192,1)" font-size="26.6" fill="#000" stroke="#000" stroke-width="0.7" stroke-linejoin="round">e</text>
<text transform="translate(276.01,702.40) scale(1.061,1)" font-size="26.6" fill="#000" stroke="#000" stroke-width="0.8" stroke-linejoin="round">V</text>
<text transform="translate(295.42,693.40) scale(0.955,1)" font-size="19.0" fill="#000" stroke="#000" stroke-width="0.6" stroke-linejoin="round">2</text>
<text transform="translate(305.24,704.70) scale(0.807,1)" font-size="32.5" fill="#000" stroke="#000" stroke-width="0.7" stroke-linejoin="round">)</text>
<text transform="translate(636.58,702.40) scale(0.909,1)" font-size="26.6" fill="#000" stroke="#000" stroke-width="0.8" stroke-linejoin="round">Q</text>
<text transform="translate(655.08,695.20) scale(1.049,1)" font-size="19.0" fill="#000" stroke="#000" stroke-width="0.6" stroke-linejoin="round">2</text>
<text transform="translate(680.05,704.70) scale(0.785,1)" font-size="32.5" fill="#000" stroke="#000" stroke-width="0.7" stroke-linejoin="round">(</text>
<text transform="translate(689.39,702.40) scale(1.017,1)" font-size="26.6" fill="#000" stroke="#000" stroke-width="0.8" stroke-linejoin="round">G</text>
<text transform="translate(710.33,702.40) scale(1.192,1)" font-size="26.6" fill="#000" stroke="#000" stroke-width="0.7" stroke-linejoin="round">e</text>
<text transform="translate(724.21,702.40) scale(1.061,1)" font-size="26.6" fill="#000" stroke="#000" stroke-width="0.8" stroke-linejoin="round">V</text>
<text transform="translate(743.62,693.40) scale(0.955,1)" font-size="19.0" fill="#000" stroke="#000" stroke-width="0.6" stroke-linejoin="round">2</text>
<text transform="translate(753.44,704.70) scale(0.807,1)" font-size="32.5" fill="#000" stroke="#000" stroke-width="0.7" stroke-linejoin="round">)</text>
</g>
</svg>
</body></html>
